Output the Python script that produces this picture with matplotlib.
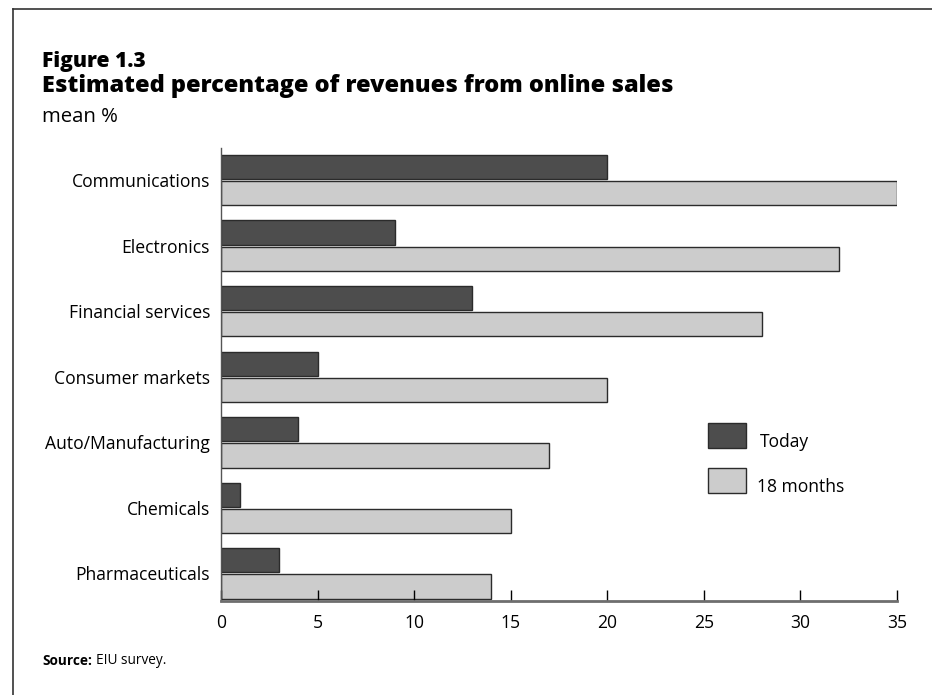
import matplotlib.pyplot as plt
from matplotlib.patches import Rectangle
from matplotlib.lines import Line2D
import numpy as np

plt.rcParams['font.family'] = ['Open Sans', 'DejaVu Sans']

# données
sectors = ['Communications', 'Electronics', 'Financial services', 'Consumer markets',
           'Auto/Manufacturing', 'Chemicals', 'Pharmaceuticals']
today = [20, 9, 13, 5, 4, 1, 3]
months_18 = [35, 32, 28, 20, 17, 15, 14]

c_today = '#4d4d4d'
c_18 = '#cccccc'
c_edge = '#2b2b2b'

W, H = 932, 695
fig = plt.figure(figsize=(W / 100, H / 100), dpi=100)
renderer = fig.canvas.get_renderer()


def fx(px):
    return px / W


def fy(py):
    return 1 - py / H


def fit(t, px):
    # ajuste la taille de police pour une largeur donnée (pixels)
    w = t.get_window_extent(renderer).width
    t.set_fontsize(t.get_fontsize() * px / w)
    return t


# taille des libellés d'axe à partir de "Communications"
probe = fit(fig.text(0, 0, 'Communications', fontsize=12), 138)
lab_size = probe.get_fontsize()
probe.remove()

ax = fig.add_axes([fx(221), fy(601), fx(897) - fx(221), fy(148) - fy(601)])

y = np.arange(len(sectors))
h = 0.37
ax.barh(y - 0.2, today, height=h, color=c_today, edgecolor=c_edge, linewidth=1)
ax.barh(y + 0.2, months_18, height=h, color=c_18, edgecolor=c_edge, linewidth=1)

ax.set_ylim(6.42, -0.49)
ax.set_xlim(0, 35)
ax.set_yticks(y)
ax.set_yticklabels(sectors, fontsize=lab_size)
ax.tick_params(axis='y', length=0, pad=8)
ax.set_xticks(range(0, 36, 5))
ax.tick_params(axis='x', direction='in', length=8, width=1, color='black',
               labelsize=lab_size, pad=9)

for s in ['top', 'right']:
    ax.spines[s].set_visible(False)
ax.spines['bottom'].set_color('#6e6e6e')
ax.spines['bottom'].set_linewidth(2)
ax.spines['left'].set_color('#555555')
ax.spines['left'].set_linewidth(1)

# légende manuelle
leg = [(c_today, 'Today', 423, 442, 760), (c_18, '18 months', 468, 487, 757)]
for col, lab, ytop, yt, xt in leg:
    fig.patches.append(Rectangle((fx(708), fy(ytop + 25)), 38 / W, 25 / H,
                                 transform=fig.transFigure, facecolor=col,
                                 edgecolor=c_edge, linewidth=1))
    fig.text(fx(xt), fy(yt), lab, fontsize=lab_size, va='center', ha='left')

# titres
t1 = fig.text(fx(42), fy(61), 'Figure 1.3', fontsize=14, fontweight=800, va='center')
fit(t1, 104)
t2 = fig.text(fx(42), fy(86), 'Estimated percentage of revenues from online sales',
              fontsize=15, fontweight=800, va='center')
fit(t2, 631)
t3 = fig.text(fx(42), fy(117), 'mean %', fontsize=13, va='center')
fit(t3, 76)

src = fig.text(fx(42), fy(661), 'Source:', fontsize=9, fontweight='bold', va='center')
fit(src, 50)
x_end = src.get_window_extent(renderer).x1
src2 = fig.text(fx(x_end + 4), fy(661), 'EIU survey.', fontsize=src.get_fontsize(),
                va='center')

# cadre
fig.add_artist(Line2D([fx(13), 1], [fy(9), fy(9)], color='#333333', lw=1.2,
                      transform=fig.transFigure))
fig.add_artist(Line2D([fx(13), fx(13)], [0, fy(9)], color='#333333', lw=1.2,
                      transform=fig.transFigure))

fig.savefig('out.png', dpi=100)
